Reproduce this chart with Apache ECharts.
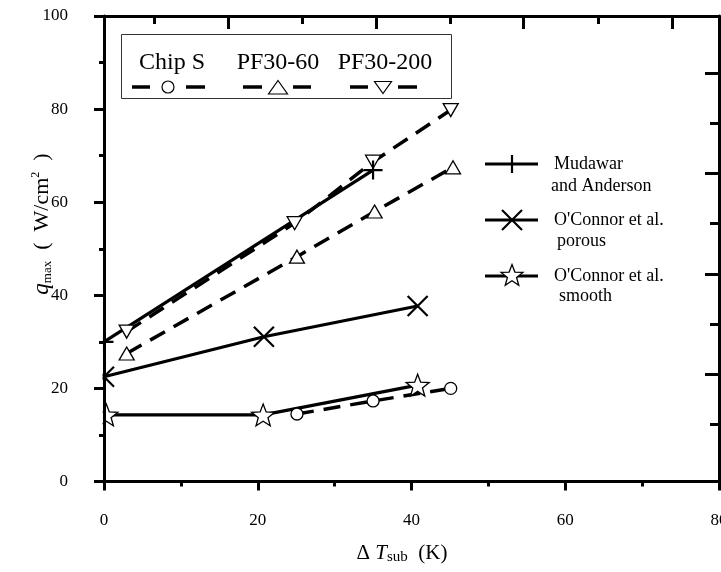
<!DOCTYPE html>
<html><head><meta charset="utf-8">
<script src="https://cdn.jsdelivr.net/npm/echarts@6/dist/echarts.min.js"></script>
<style>html,body{margin:0;padding:0;background:#fff}#c{width:721px;height:572px}</style>
</head><body><div id="c"></div>
<script>
// ---- tick definitions ----
const xTickInterval = 20;
const yTickInterval = 20;
const topTicksLong = [16.1, 35.4, 54.6, 73.9];
const topTicksShort = [6.6, 25.8, 45.0, 64.3];
const rightTicksLong = [87.8, 66.3, 44.6, 23.1];
const rightTicksShort = [77.0, 55.5, 33.8, 12.4];

// ---- series data [ΔTsub (K), qmax (W/cm2)] ----
const chipS = [[25.1, 14.5], [35.0, 17.3], [45.1, 20.0]];
const pf3060 = [[2.95, 27.5], [25.1, 48.3], [35.2, 58.0], [45.4, 67.5]];
const pf30200 = [[2.95, 32.2], [24.8, 55.5], [35.0, 68.7], [45.1, 79.8]];
const mudawar = [[0, 30.0], [35.0, 66.9]];
const oconnorPorous = [[0, 22.5], [20.8, 31.1], [40.8, 37.7]];
const oconnorSmooth = [[0.3, 14.3], [20.7, 14.3], [40.8, 20.7]];

const FONT = '"Liberation Serif", "DejaVu Serif", serif';
const PLUS_PATH = 'path://M0,10L20,10M10,0L10,20';
const X_PATH = 'path://M0,0L20,20M20,0L0,20';
// star points in a 20x20 box
const STAR_PTS = [[10,0],[12.47,6.6],[19.51,6.91],[13.99,11.3],[15.88,18.09],[10,14.2],[4.12,18.09],[6.01,11.3],[0.49,6.91],[7.53,6.6]];
const STAR_PATH = 'path://M' + STAR_PTS.map(p => p.join(',')).join('L') + 'Z';

const chart = echarts.init(document.getElementById('c'), null, {renderer: 'canvas'});

const GRID = {left: 104, top: 16, width: 615, height: 465.5, outerBoundsMode: 'none', containLabel: false};
const black = '#000';
const dashed = {color: black, width: 3.5, type: [17, 10]};
const solid = {color: black, width: 3.2, type: 'solid'};
const hollow = {color: '#fff', borderColor: black, borderWidth: 1.3};
const stroked = {color: 'none', borderColor: black, borderWidth: 2.2};

function tickOnlyX(gridIndex, vals, len, showLine) {
  return {type: 'value', gridIndex, position: 'top', min: 0, max: 80, z: 10,
    axisLine: {show: showLine, onZero: false, lineStyle: {color: black, width: 3}},
    axisTick: {show: true, inside: true, length: len, customValues: vals, lineStyle: {color: black, width: 3}},
    axisLabel: {show: false}, splitLine: {show: false}};
}
function tickOnlyY(gridIndex, vals, len, showLine) {
  return {type: 'value', gridIndex, position: 'right', min: 0, max: 100, z: 10,
    axisLine: {show: showLine, onZero: false, lineStyle: {color: black, width: 3}},
    axisTick: {show: true, inside: true, length: len, customValues: vals, lineStyle: {color: black, width: 3}},
    axisLabel: {show: false}, splitLine: {show: false}};
}

function legendSample(cx, cy, x1, x2, x3, x4, marker) {
  const els = [
    {type: 'line', shape: {x1: x1, y1: cy, x2: x2, y2: cy}, style: {stroke: black, lineWidth: 3.5}, z: 21},
    {type: 'line', shape: {x1: x3, y1: cy, x2: x4, y2: cy}, style: {stroke: black, lineWidth: 3.5}, z: 21},
  ];
  els.push(Object.assign({z: 22}, marker));
  return els;
}

const graphics = [
  // white mask to clip markers at the left axis
  {type: 'rect', shape: {x: 0, y: 22, width: 102.5, height: 452}, style: {fill: '#fff'}, z: 5, silent: true},
  // boxed legend
  {type: 'rect', shape: {x: 121.5, y: 34.5, width: 330, height: 64}, style: {fill: '#fff', stroke: '#333', lineWidth: 1}, z: 20},
  {type: 'text', style: {text: 'Chip S', x: 172, y: 63, align: 'center', verticalAlign: 'middle', font: '24px ' + FONT, fill: black}, z: 21},
  {type: 'text', style: {text: 'PF30-60', x: 278, y: 63, align: 'center', verticalAlign: 'middle', font: '24px ' + FONT, fill: black}, z: 21},
  {type: 'text', style: {text: 'PF30-200', x: 385, y: 63, align: 'center', verticalAlign: 'middle', font: '24px ' + FONT, fill: black}, z: 21},
  ...legendSample(168, 87, 132, 150, 186, 205, {type: 'circle', shape: {cx: 168, cy: 87, r: 6}, style: {fill: '#fff', stroke: black, lineWidth: 1.2}}),
  ...legendSample(278, 87, 243, 262, 293, 311, {type: 'polygon', shape: {points: [[278, 80.5], [287.5, 94], [268.5, 94]]}, style: {fill: '#fff', stroke: black, lineWidth: 1.2}}),
  ...legendSample(383, 87, 350, 368, 398, 417, {type: 'polygon', shape: {points: [[374.5, 81.5], [391.5, 81.5], [383, 93.5]]}, style: {fill: '#fff', stroke: black, lineWidth: 1.2}}),
  // right legend
  {type: 'line', shape: {x1: 485, y1: 164, x2: 538, y2: 164}, style: {stroke: black, lineWidth: 3}, z: 21},
  {type: 'line', shape: {x1: 512, y1: 155, x2: 512, y2: 173}, style: {stroke: black, lineWidth: 2.2}, z: 22},
  {type: 'text', style: {text: 'Mudawar', x: 554, y: 164, align: 'left', verticalAlign: 'middle', font: '18px ' + FONT, fill: black}, z: 21},
  {type: 'text', style: {text: 'and Anderson', x: 551, y: 186, align: 'left', verticalAlign: 'middle', font: '18px ' + FONT, fill: black}, z: 21},
  {type: 'line', shape: {x1: 485, y1: 220, x2: 538, y2: 220}, style: {stroke: black, lineWidth: 3}, z: 21},
  {type: 'line', shape: {x1: 502, y1: 210, x2: 522, y2: 230}, style: {stroke: black, lineWidth: 2.2}, z: 22},
  {type: 'line', shape: {x1: 522, y1: 210, x2: 502, y2: 230}, style: {stroke: black, lineWidth: 2.2}, z: 22},
  {type: 'text', style: {text: "O'Connor et al.", x: 554, y: 220, align: 'left', verticalAlign: 'middle', font: '18px ' + FONT, fill: black}, z: 21},
  {type: 'text', style: {text: 'porous', x: 557, y: 241, align: 'left', verticalAlign: 'middle', font: '18px ' + FONT, fill: black}, z: 21},
  {type: 'line', shape: {x1: 485, y1: 276, x2: 538, y2: 276}, style: {stroke: black, lineWidth: 3}, z: 21},
  {type: 'polygon', shape: {points: STAR_PTS.map(p => [500.5 + p[0] * 1.15, 264.5 + p[1] * 1.15])}, style: {fill: '#fff', stroke: black, lineWidth: 1.3}, z: 22},
  {type: 'text', style: {text: "O'Connor et al.", x: 554, y: 276, align: 'left', verticalAlign: 'middle', font: '18px ' + FONT, fill: black}, z: 21},
  {type: 'text', style: {text: 'smooth', x: 559, y: 296, align: 'left', verticalAlign: 'middle', font: '18px ' + FONT, fill: black}, z: 21},
  // axis titles
  {type: 'text', x: 402, y: 553, z: 21, style: {text: '{a|Δ }{t|T}{s|sub}{a|  (K)}', align: 'center', verticalAlign: 'middle', fill: black,
    rich: {a: {fontFamily: FONT, fontSize: 21, lineHeight: 24, fill: black},
           t: {fontFamily: FONT, fontSize: 21, fontStyle: 'italic', lineHeight: 24, fill: black},
           s: {fontFamily: FONT, fontSize: 15, lineHeight: 15, verticalAlign: 'bottom', fill: black}}}},
  {type: 'text', x: 42, y: 224, rotation: Math.PI / 2, z: 21, style: {text: '{q|q}{m|max}{a|  (  W/cm}{u|2}{a|  )}', align: 'center', verticalAlign: 'middle', fill: black,
    rich: {q: {fontFamily: FONT, fontSize: 23, fontStyle: 'italic', lineHeight: 24, fill: black},
           m: {fontFamily: FONT, fontSize: 13, lineHeight: 13, verticalAlign: 'bottom', fill: black},
           a: {fontFamily: FONT, fontSize: 22, lineHeight: 24, fill: black},
           u: {fontFamily: FONT, fontSize: 12, lineHeight: 12, verticalAlign: 'top', fill: black}}}}
];

const option = {
  animation: false,
  backgroundColor: '#fff',
  grid: [Object.assign({}, GRID), Object.assign({}, GRID), Object.assign({}, GRID)],
  xAxis: [
    {type: 'value', gridIndex: 0, position: 'bottom', min: 0, max: 80, interval: xTickInterval, z: 10,
     axisLine: {show: true, onZero: false, lineStyle: {color: black, width: 3}},
     axisTick: {show: true, inside: false, length: 9, lineStyle: {color: black, width: 3}},
     minorTick: {show: true, splitNumber: 2, length: 5, lineStyle: {color: black, width: 3}},
     axisLabel: {show: true, margin: 31, color: black, fontFamily: FONT, fontSize: 17},
     splitLine: {show: false}, minorSplitLine: {show: false}},
    tickOnlyX(1, topTicksLong, 13, true),
    tickOnlyX(2, topTicksShort, 8, false)
  ],
  yAxis: [
    {type: 'value', gridIndex: 0, position: 'left', min: 0, max: 100, interval: yTickInterval, z: 10,
     axisLine: {show: true, onZero: false, lineStyle: {color: black, width: 3}},
     axisTick: {show: true, inside: false, length: 10, lineStyle: {color: black, width: 3}},
     minorTick: {show: true, splitNumber: 2, length: 5, lineStyle: {color: black, width: 3}},
     axisLabel: {show: true, margin: 36, color: black, fontFamily: FONT, fontSize: 17},
     splitLine: {show: false}, minorSplitLine: {show: false}},
    tickOnlyY(1, rightTicksLong, 14, true),
    tickOnlyY(2, rightTicksShort, 9, false)
  ],
  graphic: {elements: graphics},
  series: [
    {name: 'Chip S', type: 'line', data: chipS, symbol: 'circle', symbolSize: 12, lineStyle: dashed, itemStyle: hollow},
    {name: 'PF30-60', type: 'line', data: pf3060, symbol: 'triangle', symbolSize: [15, 13], lineStyle: dashed, itemStyle: hollow},
    {name: 'PF30-200', type: 'line', data: pf30200, symbol: 'triangle', symbolRotate: 180, symbolSize: [15, 13], lineStyle: dashed, itemStyle: hollow},
    {name: 'Mudawar and Anderson', type: 'line', data: mudawar, symbol: PLUS_PATH, symbolSize: 19, lineStyle: solid, itemStyle: stroked},
    {name: "O'Connor et al. porous", type: 'line', data: oconnorPorous, symbol: X_PATH, symbolSize: 20, lineStyle: solid, itemStyle: stroked},
    {name: "O'Connor et al. smooth", type: 'line', data: oconnorSmooth, symbol: STAR_PATH, symbolSize: 23, symbolKeepAspect: true, lineStyle: solid, itemStyle: hollow}
  ].map(s => Object.assign({xAxisIndex: 0, yAxisIndex: 0, showSymbol: true, showAllSymbol: true, silent: true, emphasis: {disabled: true}}, s))
};
chart.setOption(option);
</script>
</body></html>
